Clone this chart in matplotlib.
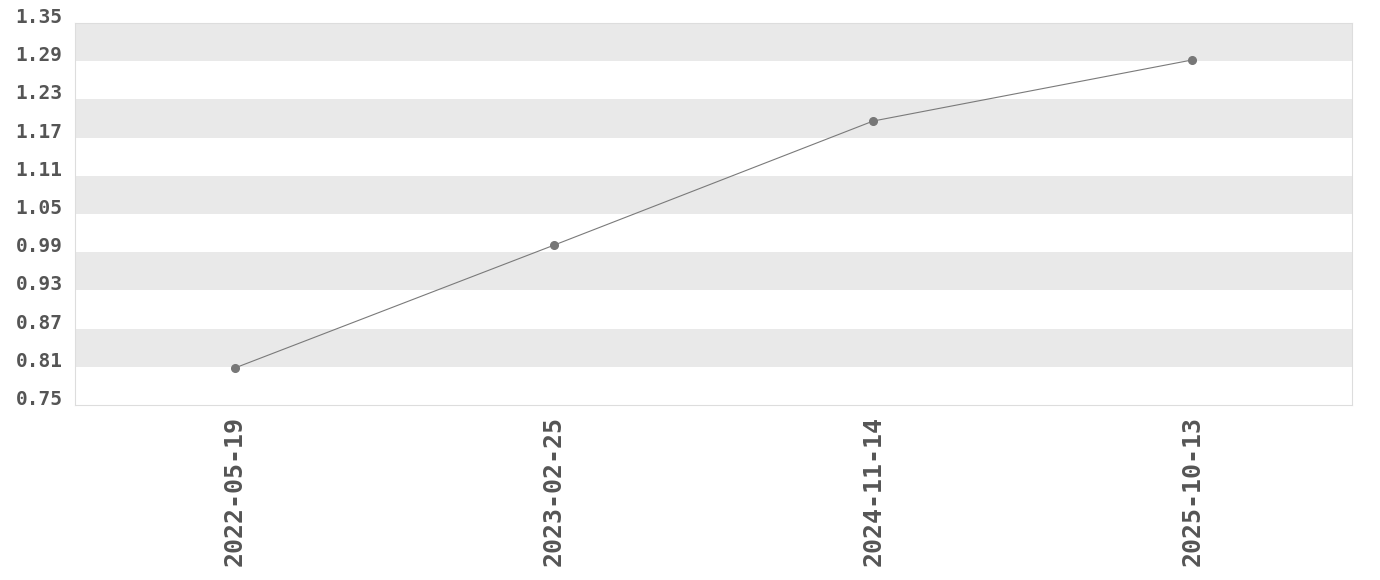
import numpy as np
import matplotlib
matplotlib.use("Agg")
import matplotlib.pyplot as plt

dates = ["2022-05-19", "2023-02-25", "2024-11-14", "2025-10-13"]
values = [0.808, 1.001, 1.196, 1.292]
yticks = [0.75, 0.81, 0.87, 0.93, 0.99, 1.05, 1.11, 1.17, 1.23, 1.29, 1.35]

plt.rcParams["font.family"] = ["DejaVu Sans Mono"]
TXT = "#555555"

fig = plt.figure(figsize=(13.8, 5.8), dpi=100)
ax = fig.add_axes([75 / 1380, 1 - 405 / 580, 1277 / 1380, 382 / 580])

# alternating bands, grey from the top down
for i in range(len(yticks) - 1):
    if (len(yticks) - 2 - i) % 2 == 0:
        ax.axhspan(yticks[i], yticks[i + 1], color="#e9e9e9", lw=0, zorder=0)

x = np.arange(len(dates))
ax.plot(x, values, color="#7a7a7a", lw=0.8, marker="o", ms=5.5,
        mfc="#777777", mec="#777777", zorder=3)

ax.set_xlim(-0.5, len(dates) - 0.5)
ax.set_ylim(yticks[0], yticks[-1])
ax.set_yticks(yticks)
ax.set_yticklabels([f"{v:.2f}" for v in yticks])
ax.set_xticks(x)
ax.set_xticklabels(dates, rotation=90)
ax.tick_params(length=0)
ax.tick_params(axis="y", pad=9, labelsize=14, labelcolor=TXT)
ax.tick_params(axis="x", pad=8, labelsize=18, labelcolor=TXT)
for lab in ax.get_yticklabels():
    lab.set_fontweight("bold")
    lab.set_va("baseline")
for lab in ax.get_xticklabels():
    lab.set_fontweight("bold")
    lab.set_va("top")
for s in ax.spines.values():
    s.set_color("#dddddd")
    s.set_linewidth(0.8)

fig.savefig("out.png", dpi=100, facecolor="white")
